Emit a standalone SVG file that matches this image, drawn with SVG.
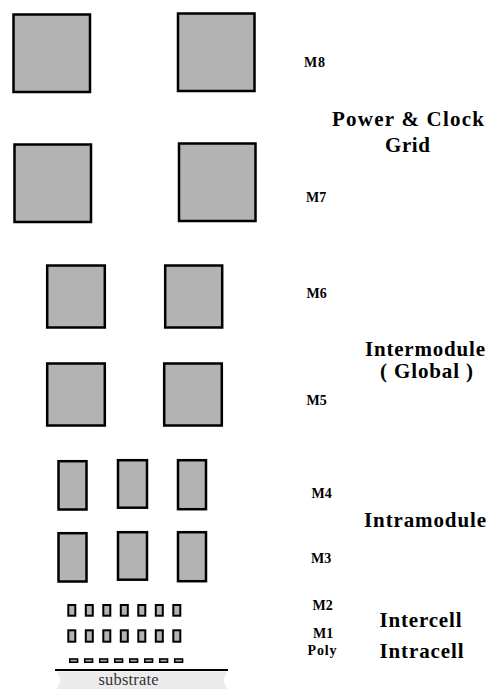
<svg xmlns="http://www.w3.org/2000/svg" width="489" height="689" viewBox="0 0 489 689">
<style>
.big{fill:#b3b3b3;stroke:#000;stroke-width:2.5}
.sm{fill:#b3b3b3;stroke:#000;stroke-width:2}
.poly{fill:#b3b3b3;stroke:#000;stroke-width:1.6}
.lbl{font-family:"Liberation Serif","Times New Roman",serif;font-weight:bold;font-size:14px;fill:#000}
.grp{font-family:"Liberation Serif","Times New Roman",serif;font-weight:bold;font-size:21px;fill:#000}
.sub{font-family:"Liberation Serif","Times New Roman",serif;font-size:16.5px;fill:#333}
</style>
<rect width="489" height="689" fill="#fff"/>
<g id="M8">
<rect class="big" x="13.5" y="14.5" width="76.5" height="77.5"/>
<rect class="big" x="178" y="13.5" width="76.5" height="77.5"/>
<text class="lbl" x="304" y="67" textLength="21" lengthAdjust="spacing">M8</text>
</g>
<g id="M7">
<rect class="big" x="14.5" y="144.5" width="76.5" height="77.5"/>
<rect class="big" x="179" y="143.5" width="76.5" height="77.5"/>
<text class="lbl" x="306" y="202">M7</text>
</g>
<g id="M6">
<rect class="big" x="47.2" y="265.5" width="57.6" height="62"/>
<rect class="big" x="165.2" y="265.5" width="57" height="62"/>
<text class="lbl" x="306.5" y="297.5">M6</text>
</g>
<g id="M5">
<rect class="big" x="47.2" y="363.5" width="57.6" height="62"/>
<rect class="big" x="164.2" y="363.5" width="57.6" height="62"/>
<text class="lbl" x="306.5" y="405">M5</text>
</g>
<g id="M4">
<rect class="big" x="58.5" y="461.2" width="28" height="48.3"/>
<rect class="big" x="118" y="460.2" width="29" height="47.5"/>
<rect class="big" x="178" y="460.2" width="28" height="49"/>
<text class="lbl" x="311.5" y="497.5">M4</text>
</g>
<g id="M3">
<rect class="big" x="58.5" y="533.2" width="28" height="48.3"/>
<rect class="big" x="118" y="532.2" width="29" height="47.5"/>
<rect class="big" x="178" y="532.2" width="28" height="49"/>
<text class="lbl" x="311" y="562.5">M3</text>
</g>
<g id="M2">
<rect class="sm" x="68.3" y="605" width="7" height="10.7"/>
<rect class="sm" x="85.8" y="605" width="7" height="10.7"/>
<rect class="sm" x="103.3" y="605" width="7" height="10.7"/>
<rect class="sm" x="120.8" y="605" width="7" height="10.7"/>
<rect class="sm" x="138.3" y="605" width="7" height="10.7"/>
<rect class="sm" x="155.8" y="605" width="7" height="10.7"/>
<rect class="sm" x="173.3" y="605" width="7" height="10.7"/>
<text class="lbl" x="312.5" y="610">M2</text>
</g>
<g id="M1">
<rect class="sm" x="68.3" y="630.3" width="7" height="11.4"/>
<rect class="sm" x="85.8" y="630.3" width="7" height="11.4"/>
<rect class="sm" x="103.3" y="630.3" width="7" height="11.4"/>
<rect class="sm" x="120.8" y="630.3" width="7" height="11.4"/>
<rect class="sm" x="138.3" y="630.3" width="7" height="11.4"/>
<rect class="sm" x="155.8" y="630.3" width="7" height="11.4"/>
<rect class="sm" x="173.3" y="630.3" width="7" height="11.4"/>
<text class="lbl" x="313" y="638">M1</text>
</g>
<g id="Poly">
<rect class="poly" x="69.75" y="659" width="7.8" height="3.2"/>
<rect class="poly" x="84.75" y="659" width="7.8" height="3.2"/>
<rect class="poly" x="99.75" y="659" width="7.8" height="3.2"/>
<rect class="poly" x="114.75" y="659" width="7.8" height="3.2"/>
<rect class="poly" x="129.75" y="659" width="7.8" height="3.2"/>
<rect class="poly" x="144.75" y="659" width="7.8" height="3.2"/>
<rect class="poly" x="159.75" y="659" width="7.8" height="3.2"/>
<rect class="poly" x="174.75" y="659" width="7.8" height="3.2"/>
<text class="lbl" x="307.5" y="655" textLength="29" lengthAdjust="spacing">Poly</text>
</g>
<g id="substrate">
<polygon points="57,671.5 227,671.5 223,680 227,689 57,689 61,680" fill="#ebebeb"/>
<line x1="55" y1="670" x2="228" y2="670" stroke="#000" stroke-width="2"/>
<text class="sub" x="98.5" y="685" textLength="60" lengthAdjust="spacing">substrate</text>
</g>
<g id="group-labels">
<text class="grp" x="332" y="125.5" textLength="152" lengthAdjust="spacing">Power &amp; Clock</text>
<text class="grp" x="385" y="151.5" textLength="45" lengthAdjust="spacing">Grid</text>
<text class="grp" x="365" y="355.5" textLength="120" lengthAdjust="spacing">Intermodule</text>
<text class="grp" x="380" y="377.7" textLength="93" lengthAdjust="spacing">( Global )</text>
<text class="grp" x="364" y="527" textLength="122" lengthAdjust="spacing">Intramodule</text>
<text class="grp" x="379.5" y="626.7" textLength="82" lengthAdjust="spacing">Intercell</text>
<text class="grp" x="379.5" y="658.3" textLength="84" lengthAdjust="spacing">Intracell</text>
</g>
<g id="connectors"/>
</svg>
